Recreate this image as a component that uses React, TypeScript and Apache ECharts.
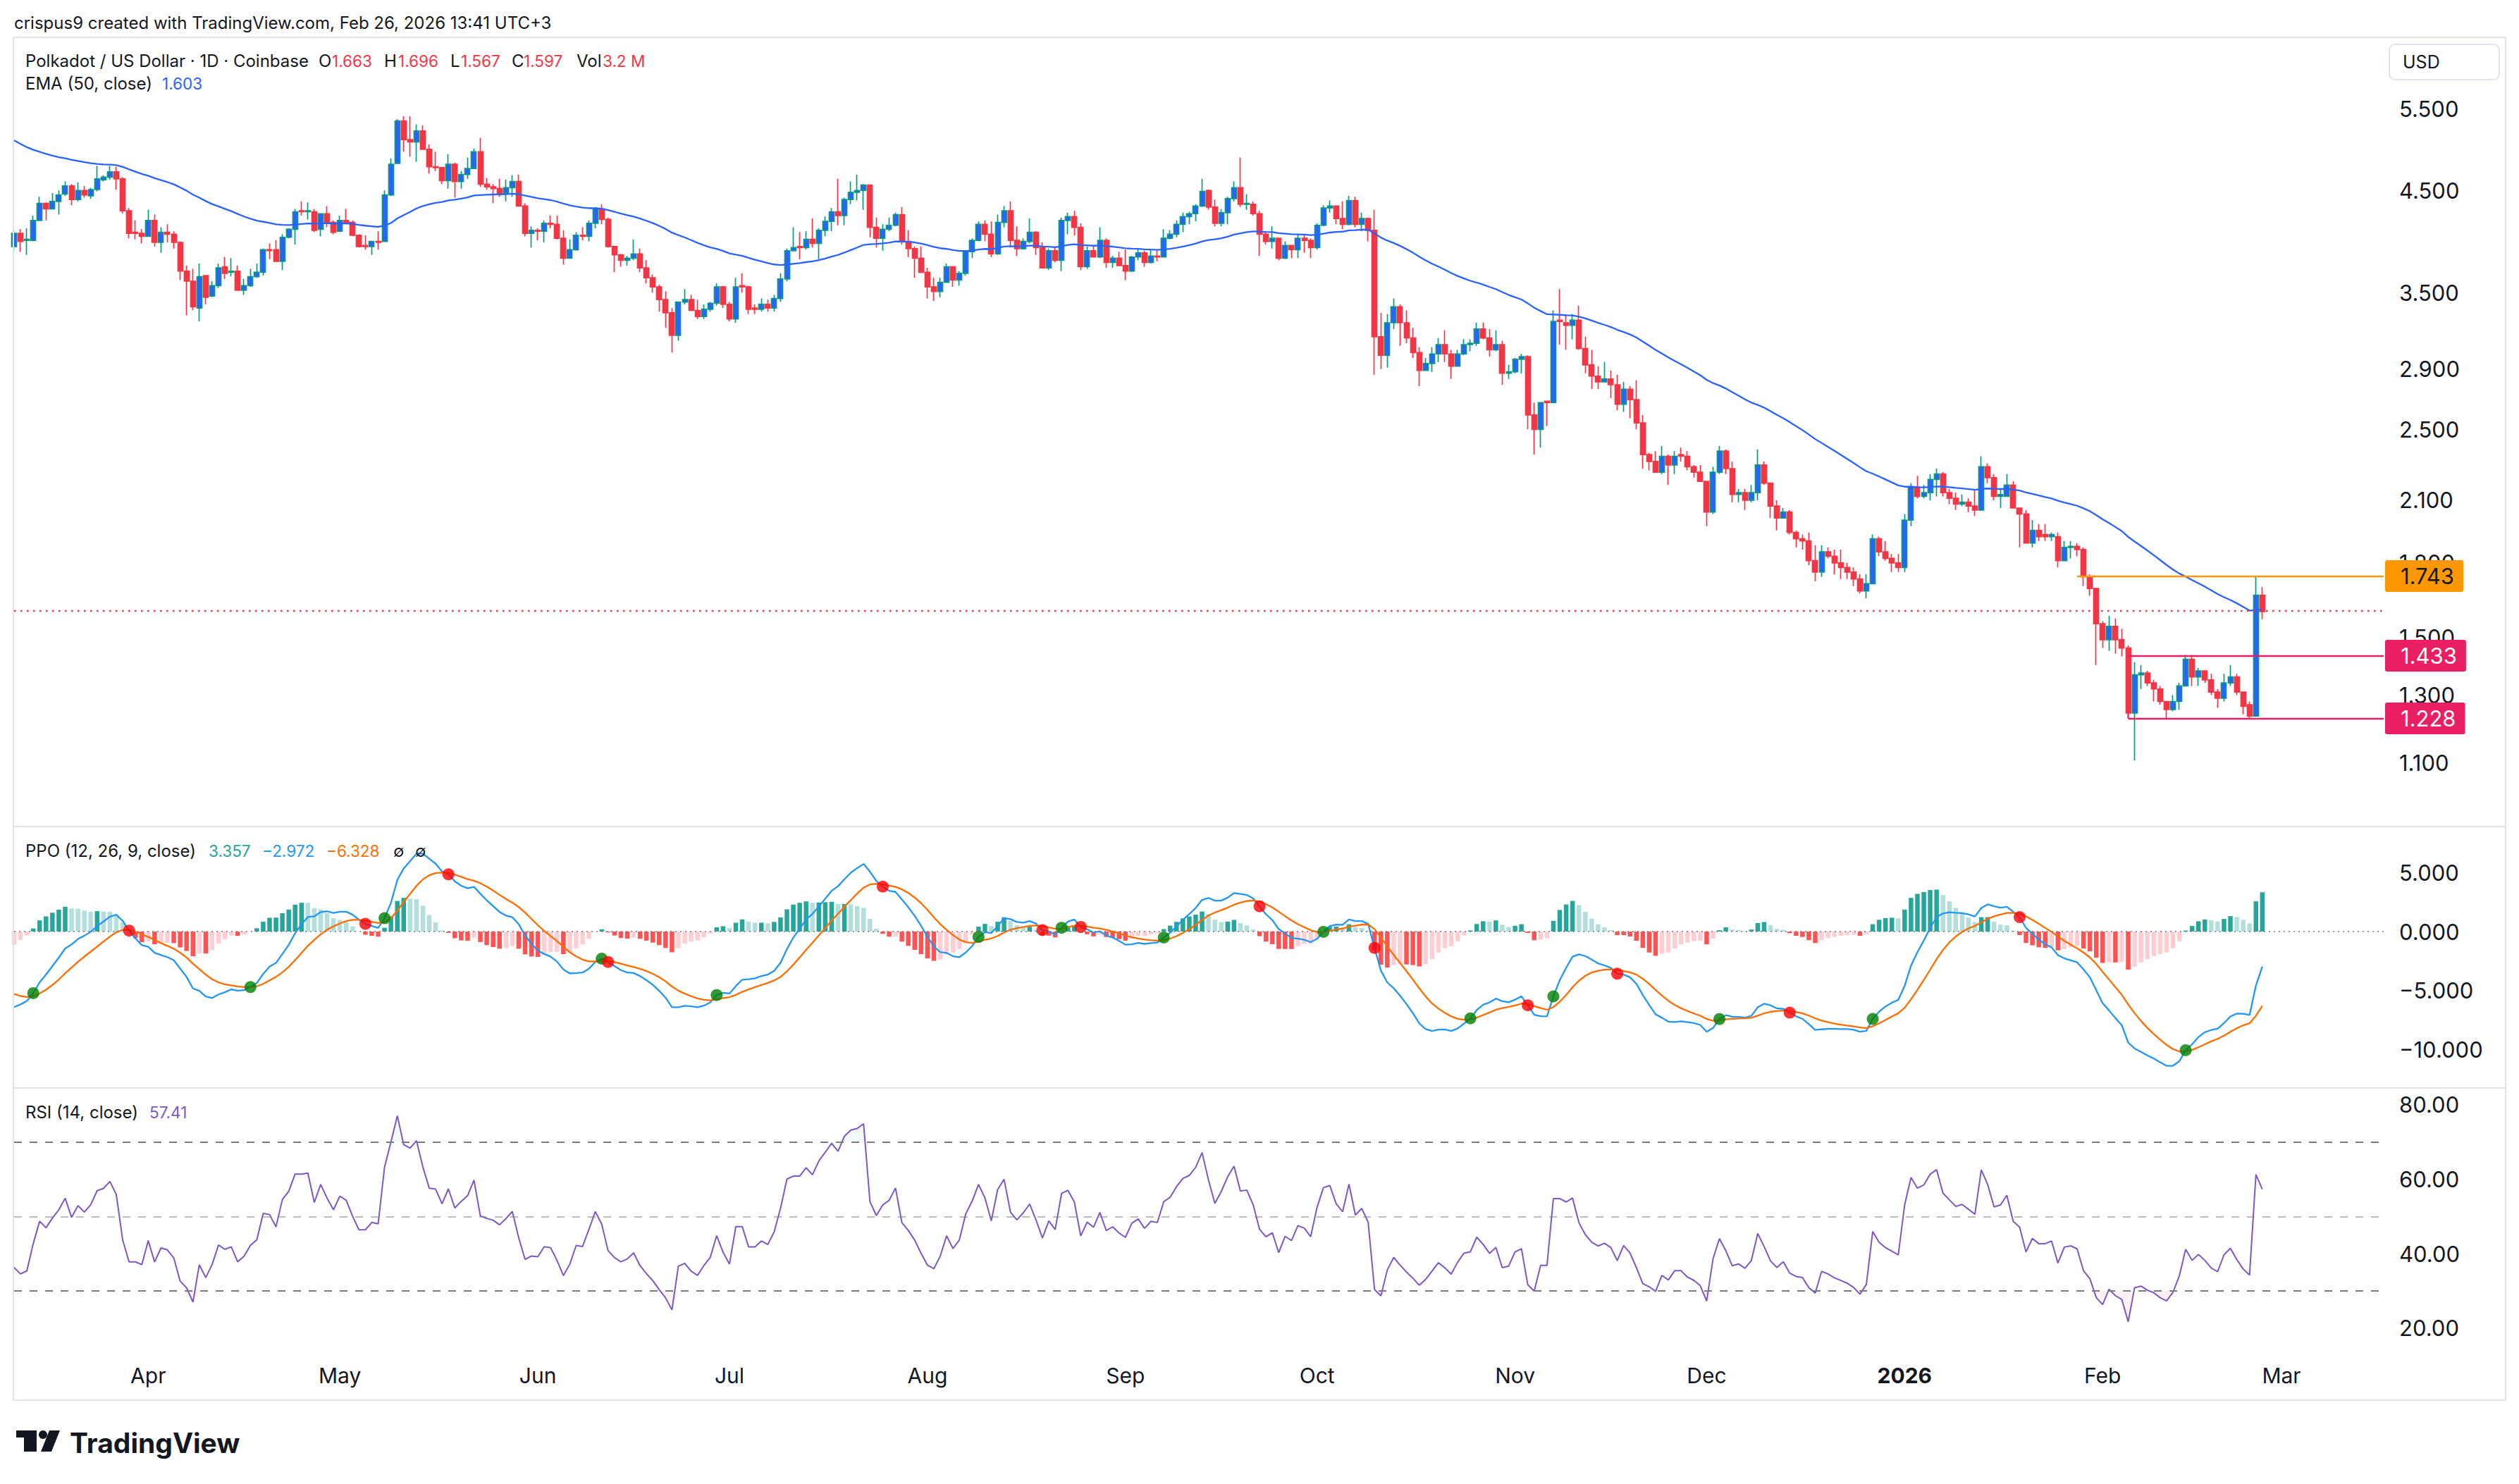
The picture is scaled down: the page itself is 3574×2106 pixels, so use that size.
import React, { useEffect, useRef } from "react";
import * as echarts from "echarts";

// ---------- data (Polkadot / US Dollar, 1D, Coinbase) ----------
const START_DATE = "2025-03-11";
const N_CATEGORIES = 372; // days shown on the time axis (data + right margin)

const OPEN = [
  3.92,4.05,3.98,3.98,4.18,4.36,4.30,4.38,4.46,4.55,
  4.40,4.50,4.44,4.51,4.62,4.65,4.71,4.63,4.28,4.06,
  4.05,4.02,4.18,3.96,4.06,4.04,3.96,3.69,3.60,3.37,
  3.65,3.47,3.56,3.73,3.68,3.69,3.52,3.56,3.64,3.68,
  3.89,3.89,3.78,4.01,4.09,4.28,4.27,4.27,4.09,4.25,
  4.16,4.07,4.18,4.16,4.03,3.93,3.92,3.97,3.97,4.45,
  4.81,5.34,5.10,5.07,5.21,4.98,4.77,4.76,4.61,4.80,
  4.60,4.68,4.75,4.95,4.57,4.54,4.52,4.47,4.53,4.60,
  4.33,4.05,4.08,4.07,4.15,4.14,4.00,3.81,3.89,4.03,
  4.02,4.15,4.30,4.19,3.92,3.84,3.79,3.81,3.85,3.72,
  3.63,3.55,3.44,3.33,3.15,3.42,3.44,3.35,3.30,3.36,
  3.41,3.55,3.40,3.28,3.56,3.55,3.37,3.36,3.40,3.37,
  3.45,3.62,3.88,3.92,3.91,3.99,3.95,4.08,4.17,4.27,
  4.23,4.40,4.48,4.50,4.56,4.11,4.00,4.09,4.13,4.24,
  3.97,3.90,3.81,3.68,3.55,3.51,3.59,3.73,3.61,3.67,
  3.87,3.98,4.14,4.04,3.85,4.16,4.28,3.98,3.90,3.97,
  4.06,3.91,3.72,3.88,3.79,4.18,4.22,4.11,3.73,3.88,
  3.82,3.98,3.77,3.81,3.74,3.69,3.82,3.86,3.77,3.83,
  3.82,4.00,4.04,4.14,4.22,4.25,4.33,4.50,4.32,4.15,
  4.26,4.41,4.53,4.35,4.35,4.25,4.04,3.97,4.00,3.81,
  3.93,3.89,4.00,3.98,3.91,4.13,4.31,4.33,4.20,4.14,
  4.39,4.14,4.20,4.08,3.14,3.00,3.25,3.38,3.25,3.13,
  3.02,2.89,2.94,3.01,3.08,3.01,2.92,3.01,3.08,3.09,
  3.20,3.13,3.04,3.08,2.87,2.88,2.97,2.99,2.59,2.50,
  2.68,2.67,3.27,3.25,3.23,3.27,3.05,2.93,2.85,2.81,
  2.83,2.79,2.66,2.76,2.69,2.54,2.35,2.31,2.25,2.34,
  2.29,2.35,2.34,2.28,2.25,2.20,2.04,2.25,2.37,2.27,
  2.13,2.14,2.10,2.14,2.29,2.19,2.07,2.01,2.04,1.94,
  1.91,1.90,1.81,1.76,1.85,1.83,1.80,1.78,1.76,1.73,
  1.68,1.71,1.91,1.85,1.82,1.80,1.78,2.00,2.17,2.12,
  2.14,2.21,2.24,2.14,2.11,2.08,2.09,2.07,2.05,2.28,
  2.22,2.12,2.12,2.18,2.06,2.03,1.89,1.95,1.93,1.92,
  1.92,1.81,1.87,1.875,1.86,1.74,1.69,1.55,1.49,1.54,
  1.49,1.46,1.244,1.367,1.373,1.34,1.32,1.28,1.255,1.28,
  1.33,1.42,1.36,1.38,1.35,1.31,1.29,1.34,1.36,1.31,
  1.27,1.235,1.663,
];
const HIGH = [
  4.08,4.09,4.10,4.23,4.43,4.37,4.47,4.50,4.60,4.57,
  4.59,4.55,4.53,4.78,4.67,4.78,4.77,4.65,4.31,4.18,
  4.09,4.29,4.24,4.11,4.14,4.07,3.97,3.74,3.71,3.76,
  3.65,3.60,3.76,3.82,3.81,3.74,3.62,3.71,3.76,3.90,
  3.95,3.98,4.04,4.10,4.30,4.38,4.37,4.30,4.25,4.33,
  4.18,4.23,4.30,4.18,4.04,4.03,3.97,4.07,4.50,4.87,
  5.36,5.40,5.40,5.29,5.28,5.04,4.95,4.77,4.92,4.82,
  4.72,4.88,4.99,5.12,4.64,4.57,4.63,4.62,4.67,4.68,
  4.36,4.12,4.10,4.18,4.23,4.23,4.08,3.99,4.06,4.11,
  4.18,4.32,4.35,4.21,3.92,3.85,3.83,3.99,3.90,3.79,
  3.66,3.57,3.51,3.37,3.42,3.53,3.48,3.44,3.40,3.42,
  3.58,3.56,3.42,3.63,3.67,3.56,3.40,3.45,3.44,3.48,
  3.67,3.90,4.11,4.06,4.07,4.20,4.10,4.22,4.31,4.63,
  4.42,4.60,4.68,4.57,4.56,4.21,4.14,4.21,4.26,4.32,
  4.08,3.92,3.92,3.72,3.63,3.63,3.76,3.73,3.69,3.88,
  4.00,4.17,4.18,4.17,4.24,4.33,4.38,4.12,4.00,4.20,
  4.07,3.96,3.90,3.92,4.21,4.26,4.28,4.15,3.92,3.93,
  4.11,4.00,3.83,3.87,3.89,3.83,3.90,3.88,3.89,3.88,
  4.09,4.08,4.18,4.26,4.27,4.35,4.63,4.51,4.40,4.30,
  4.43,4.60,4.88,4.46,4.38,4.28,4.06,4.12,4.00,3.97,
  3.93,4.04,4.03,4.00,4.15,4.34,4.39,4.33,4.38,4.44,
  4.43,4.26,4.21,4.29,3.33,3.32,3.45,3.40,3.35,3.21,
  3.06,2.98,3.06,3.13,3.19,3.04,3.04,3.12,3.12,3.25,
  3.25,3.20,3.19,3.11,2.93,2.98,3.01,3.00,2.67,2.67,
  2.68,3.35,3.53,3.32,3.32,3.39,3.14,3.04,2.92,2.95,
  2.89,2.86,2.81,2.78,2.82,2.59,2.36,2.37,2.40,2.35,
  2.37,2.39,2.37,2.29,2.29,2.20,2.28,2.40,2.38,2.31,
  2.16,2.16,2.18,2.38,2.31,2.19,2.10,2.06,2.05,1.95,
  1.93,1.94,1.88,1.88,1.87,1.86,1.86,1.80,1.78,1.75,
  1.75,1.93,1.92,1.90,1.84,1.84,2.03,2.19,2.23,2.18,
  2.24,2.27,2.25,2.16,2.14,2.13,2.11,2.15,2.34,2.30,
  2.24,2.16,2.24,2.20,2.06,2.05,2.00,1.98,1.98,1.94,
  1.94,1.90,1.90,1.89,1.87,1.75,1.69,1.56,1.58,1.57,
  1.53,1.47,1.41,1.40,1.38,1.35,1.33,1.28,1.30,1.34,
  1.435,1.435,1.39,1.38,1.37,1.32,1.37,1.40,1.37,1.31,
  1.28,1.743,1.696,
];
const LOW = [
  3.88,3.87,3.84,3.97,4.18,4.18,4.30,4.24,4.44,4.34,
  4.38,4.42,4.41,4.49,4.60,4.62,4.51,4.25,4.00,3.99,
  3.95,4.02,3.92,3.86,3.96,3.90,3.61,3.31,3.35,3.26,
  3.40,3.46,3.54,3.62,3.64,3.52,3.48,3.55,3.63,3.65,
  3.80,3.78,3.70,4.00,3.94,4.23,4.19,4.06,4.02,4.11,
  4.04,4.07,4.14,4.02,3.91,3.89,3.84,3.89,3.97,4.44,
  4.81,4.95,4.89,4.83,4.98,4.69,4.72,4.57,4.52,4.42,
  4.52,4.63,4.75,4.54,4.51,4.36,4.43,4.38,4.43,4.33,
  4.02,3.91,3.98,3.96,4.10,3.99,3.75,3.81,3.88,3.98,
  3.97,4.10,4.14,3.91,3.68,3.73,3.74,3.79,3.68,3.58,
  3.50,3.34,3.21,3.02,3.11,3.40,3.35,3.28,3.28,3.34,
  3.39,3.37,3.26,3.25,3.50,3.32,3.32,3.34,3.34,3.34,
  3.42,3.60,3.87,3.80,3.89,3.91,3.80,4.02,4.07,4.13,
  4.13,4.35,4.39,4.29,4.01,3.91,3.88,4.07,4.12,3.94,
  3.82,3.63,3.67,3.45,3.43,3.46,3.59,3.55,3.56,3.65,
  3.81,3.97,3.97,3.82,3.84,4.11,3.91,3.83,3.89,3.95,
  3.84,3.72,3.70,3.77,3.69,4.04,4.03,3.70,3.71,3.82,
  3.81,3.72,3.72,3.74,3.61,3.68,3.79,3.73,3.76,3.78,
  3.82,3.99,4.01,4.06,4.14,4.17,4.32,4.29,4.12,4.12,
  4.14,4.38,4.32,4.29,4.23,3.83,3.94,3.90,3.79,3.80,
  3.81,3.81,3.86,3.81,3.89,4.12,4.26,4.14,4.09,4.13,
  4.11,4.07,3.97,2.86,2.90,2.91,3.20,3.07,3.09,2.98,
  2.78,2.89,2.88,2.95,2.95,2.83,2.92,3.00,3.03,3.07,
  3.12,2.99,3.03,2.79,2.83,2.87,2.87,2.50,2.35,2.39,
  2.52,2.67,3.08,3.04,3.12,3.04,2.87,2.76,2.76,2.81,
  2.70,2.62,2.61,2.57,2.50,2.27,2.26,2.25,2.24,2.18,
  2.24,2.31,2.26,2.22,2.20,1.97,2.03,2.24,2.24,2.09,
  2.09,2.05,2.09,2.10,2.18,2.01,1.95,2.01,1.93,1.87,
  1.86,1.79,1.72,1.74,1.82,1.75,1.73,1.73,1.70,1.67,
  1.65,1.71,1.83,1.81,1.76,1.76,1.76,1.97,2.11,2.11,
  2.10,2.12,2.12,2.08,2.05,2.07,2.04,2.02,2.05,2.19,
  2.10,2.06,2.12,2.06,1.87,1.89,1.87,1.90,1.90,1.90,
  1.78,1.81,1.82,1.83,1.70,1.66,1.40,1.46,1.45,1.44,
  1.43,1.243,1.107,1.32,1.33,1.28,1.27,1.228,1.25,1.255,
  1.33,1.33,1.33,1.34,1.30,1.26,1.28,1.33,1.30,1.24,
  1.229,1.233,1.567,
];
const CLOSE = [
  4.05,3.97,3.99,4.18,4.36,4.30,4.38,4.45,4.55,4.40,
  4.50,4.45,4.51,4.63,4.65,4.71,4.63,4.28,4.05,4.05,
  4.02,4.18,3.96,4.06,4.04,3.96,3.69,3.60,3.38,3.64,
  3.46,3.56,3.72,3.67,3.69,3.52,3.56,3.64,3.68,3.89,
  3.88,3.78,4.01,4.09,4.27,4.27,4.28,4.08,4.25,4.15,
  4.06,4.18,4.15,4.03,3.92,3.92,3.97,3.96,4.45,4.80,
  5.34,5.10,5.07,5.21,4.98,4.77,4.76,4.61,4.80,4.60,
  4.68,4.75,4.95,4.57,4.54,4.52,4.47,4.53,4.60,4.33,
  4.05,4.08,4.07,4.15,4.14,4.00,3.81,3.89,4.03,4.02,
  4.15,4.30,4.19,3.92,3.84,3.79,3.81,3.85,3.72,3.63,
  3.55,3.44,3.33,3.15,3.42,3.44,3.35,3.30,3.36,3.41,
  3.55,3.40,3.28,3.55,3.55,3.36,3.36,3.40,3.37,3.45,
  3.62,3.88,3.91,3.91,3.99,3.95,4.08,4.17,4.27,4.23,
  4.40,4.48,4.50,4.56,4.11,4.00,4.09,4.13,4.24,3.97,
  3.90,3.81,3.68,3.55,3.51,3.59,3.73,3.61,3.67,3.87,
  3.98,4.14,4.04,3.85,4.16,4.28,3.98,3.90,3.97,4.06,
  3.91,3.72,3.88,3.79,4.18,4.22,4.11,3.73,3.88,3.82,
  3.98,3.77,3.81,3.74,3.69,3.82,3.86,3.77,3.83,3.82,
  4.00,4.04,4.14,4.22,4.25,4.33,4.49,4.32,4.15,4.26,
  4.41,4.53,4.35,4.36,4.25,4.04,3.97,4.00,3.81,3.93,
  3.89,4.00,3.98,3.91,4.13,4.31,4.33,4.20,4.14,4.39,
  4.14,4.20,4.08,3.14,3.00,3.25,3.38,3.25,3.13,3.02,
  2.89,2.94,3.01,3.08,3.01,2.92,3.01,3.08,3.09,3.20,
  3.13,3.04,3.08,2.87,2.88,2.97,2.99,2.59,2.50,2.67,
  2.67,3.26,3.26,3.23,3.27,3.05,2.93,2.85,2.81,2.83,
  2.79,2.66,2.76,2.69,2.54,2.35,2.31,2.25,2.34,2.29,
  2.34,2.34,2.28,2.25,2.20,2.04,2.25,2.37,2.27,2.13,
  2.14,2.10,2.14,2.29,2.19,2.07,2.01,2.04,1.94,1.91,
  1.90,1.81,1.76,1.85,1.83,1.80,1.78,1.76,1.73,1.68,
  1.71,1.91,1.85,1.82,1.80,1.78,2.00,2.17,2.12,2.14,
  2.21,2.24,2.14,2.11,2.08,2.09,2.07,2.05,2.28,2.22,
  2.12,2.13,2.18,2.06,2.03,1.89,1.95,1.92,1.92,1.93,
  1.81,1.87,1.875,1.86,1.74,1.69,1.55,1.49,1.54,1.49,
  1.46,1.244,1.367,1.373,1.34,1.32,1.28,1.255,1.28,1.33,
  1.42,1.36,1.38,1.35,1.31,1.29,1.34,1.36,1.31,1.265,
  1.235,1.663,1.597,
];

// indicator state at the first visible bar
const EMA50_SEED = 5.09;
const EMA12_SEED = 4.08;
const EMA26_SEED = 4.36;
const SIGNAL_SEED = -5.3;
const RSI_AVG_GAIN_SEED = 0.045;
const RSI_AVG_LOSS_SEED = 0.079;

// tick labels
const PRICE_TICKS = [1.1, 1.3, 1.5, 1.8, 2.1, 2.5, 2.9, 3.5, 4.5, 5.5];
const PPO_TICKS = [-10, -5, 0, 5];
const RSI_TICKS = [20, 40, 60, 80];
const MONTH_NAMES = ["2026", "Feb", "Mar", "Apr", "May", "Jun", "Jul", "Aug", "Sep", "Oct", "Nov", "Dec"];

// drawn levels
const LAST_PRICE = 1.597;
const RESISTANCE = 1.743;
const RANGE_HIGH = 1.433;
const RANGE_LOW = 1.228;
const RESISTANCE_START = 323;
const RANGE_START = 331;
const RSI_LEVELS = [70, 50, 30];

// legend values (as printed)
const OHLC_LEGEND = ["1.663", "1.696", "1.567", "1.597"];
const VOL_LEGEND = "3.2 M";
const EMA_LEGEND = "1.603";
const PPO_LEGEND = ["3.357", "\u22122.972", "\u22126.328"];
const RSI_LEGEND = "57.41";

// ---------- helpers ----------
const FONT = "Inter, 'Noto Sans', 'DejaVu Sans', sans-serif";
const TXT = "#131722";
const LEG = 24; // legend title size
const VAL = 22.5; // legend value size

function buildDates(): string[] {
  const [y, m, d] = START_DATE.split("-").map(Number);
  const base = Date.UTC(y, m - 1, d);
  const out: string[] = [];
  for (let i = 0; i < N_CATEGORIES; i++) {
    out.push(new Date(base + i * 86400000).toISOString().slice(0, 10));
  }
  return out;
}

function ema(src: number[], period: number, seed: number): number[] {
  const k = 2 / (period + 1);
  const out = [seed];
  for (let i = 1; i < src.length; i++) out.push(out[i - 1] + k * (src[i] - out[i - 1]));
  return out;
}

function rsiCalc(src: number[]): number[] {
  let g = RSI_AVG_GAIN_SEED;
  let l = RSI_AVG_LOSS_SEED;
  const out = [100 - 100 / (1 + g / l)];
  for (let i = 1; i < src.length; i++) {
    const ch = src[i] - src[i - 1];
    g = (g * 13 + Math.max(ch, 0)) / 14;
    l = (l * 13 + Math.max(-ch, 0)) / 14;
    out.push(100 - 100 / (1 + g / l));
  }
  return out;
}

function text(x: number, y: number, t: string, fill = TXT, size = LEG, weight: any = "normal") {
  return {
    type: "text",
    x,
    y,
    z: 100,
    silent: true,
    style: { text: t, fill, fontSize: size, fontFamily: FONT, fontWeight: weight, verticalAlign: "middle", align: "left" },
  };
}

function buildOption() {
  const dates = buildDates();
  const last = dates[N_CATEGORIES - 1];

  const ema50 = ema(CLOSE, 50, EMA50_SEED);
  const e12 = ema(CLOSE, 12, EMA12_SEED);
  const e26 = ema(CLOSE, 26, EMA26_SEED);
  const ppo = e12.map((v, i) => ((v - e26[i]) / e26[i]) * 100);
  const signal = ema(ppo, 9, SIGNAL_SEED);
  const hist = ppo.map((v, i) => v - signal[i]);
  const rsi = rsiCalc(CLOSE);

  const histData = hist.map((v, i) => {
    const prev = i > 0 ? hist[i - 1] : v;
    let color;
    if (v >= 0) color = v >= prev ? "#26A69A" : "#B2DFDB";
    else color = v < prev ? "#FF5252" : "#FFCDD2";
    return { value: v, itemStyle: { color } };
  });

  const crosses: any[] = [];
  for (let i = 1; i < ppo.length; i++) {
    const a = hist[i - 1];
    const b = hist[i];
    if ((a < 0 && b >= 0) || (a > 0 && b <= 0)) {
      crosses.push({ value: [dates[i], ppo[i]], itemStyle: { color: b >= 0 ? "#008000" : "#FF0000" } });
    }
  }

  const candles = OPEN.map((o, i) => [o, CLOSE[i], LOW[i], HIGH[i]]);

  const levelLabel = (bg: string, fg: string, v: number) => ({
    show: true,
    position: "end",
    distance: 2,
    formatter: v.toFixed(3),
    color: fg,
    backgroundColor: bg,
    padding: [7, 13, 7, 22],
    fontSize: 31,
    lineHeight: 31,
    fontFamily: FONT,
    borderRadius: 3,
  });

  const gridCommon = { left: 20, right: 192 };
  const xCommon = {
    type: "category",
    data: dates,
    boundaryGap: false,
    axisLine: { show: false },
    axisTick: { show: false },
    splitLine: { show: false },
    axisLabel: { show: false },
  };
  const yLabel = (vals: number[], fmt: (v: number) => string) => ({
    customValues: vals,
    formatter: fmt,
    fontSize: 31,
    fontFamily: FONT,
    color: TXT,
    margin: 22,
  });

  return {
    animation: false,
    backgroundColor: "#ffffff",
    grid: [
      { ...gridCommon, top: 53, height: 1120 },
      { ...gridCommon, top: 1173, height: 371 },
      { ...gridCommon, top: 1544, height: 380 },
    ],
    xAxis: [
      { ...xCommon, gridIndex: 0 },
      { ...xCommon, gridIndex: 1 },
      {
        ...xCommon,
        gridIndex: 2,
        axisLabel: {
          show: true,
          interval: (_i: number, v: string) => v.slice(8) === "01",
          formatter: (v: string) => {
            const m = Number(v.slice(5, 7));
            const name = m === 1 ? MONTH_NAMES[0] : MONTH_NAMES[m - 1];
            return m === 1 ? "{b|" + name + "}" : name;
          },
          margin: 13,
          fontSize: 30,
          fontFamily: FONT,
          color: TXT,
          hideOverlap: false,
          rich: { b: { fontSize: 30, fontFamily: FONT, fontWeight: "bold", color: TXT } },
        },
      },
    ],
    yAxis: [
      {
        type: "log",
        logBase: 10,
        gridIndex: 0,
        position: "right",
        min: 0.941,
        max: 6.558,
        axisLine: { show: false },
        axisTick: { show: false },
        splitLine: { show: false },
        axisLabel: yLabel(PRICE_TICKS, (v) => Number(v).toFixed(3)),
      },
      {
        type: "value",
        gridIndex: 1,
        position: "right",
        min: -13.29,
        max: 8.92,
        axisLine: { show: false },
        axisTick: { show: false },
        splitLine: { show: false },
        axisLabel: yLabel(PPO_TICKS, (v) => (v < 0 ? "\u2212" : "") + Math.abs(v).toFixed(3)),
      },
      {
        type: "value",
        gridIndex: 2,
        position: "right",
        min: 12.6,
        max: 84.5,
        axisLine: { show: false },
        axisTick: { show: false },
        splitLine: { show: false },
        axisLabel: yLabel(RSI_TICKS, (v) => Number(v).toFixed(2)),
      },
    ],
    series: [
      {
        name: "rangeEdge",
        type: "line",
        xAxisIndex: 0,
        yAxisIndex: 0,
        z: 1,
        silent: true,
        showSymbol: false,
        data: [
          [dates[RANGE_START], RANGE_LOW],
          [dates[RANGE_START], RANGE_HIGH],
        ],
        lineStyle: { color: "#E91E63", width: 2.3 },
      },
      {
        name: "DOT",
        type: "candlestick",
        xAxisIndex: 0,
        yAxisIndex: 0,
        z: 3,
        barWidth: 7.5,
        data: candles,
        itemStyle: {
          color: "#2962FF",
          color0: "#F23645",
          borderColor: "#089981",
          borderColor0: "#F23645",
          borderWidth: 1.7,
        },
      },
      {
        name: "EMA50",
        type: "line",
        xAxisIndex: 0,
        yAxisIndex: 0,
        z: 4,
        data: ema50,
        showSymbol: false,
        silent: true,
        lineStyle: { color: "#2962FF", width: 2.3 },
        markLine: {
          silent: true,
          symbol: ["none", "none"],
          data: [
            { yAxis: LAST_PRICE, lineStyle: { color: "#F23645", width: 2.3, type: [2.5, 6.5] }, label: { show: false } },
            [
              { coord: [dates[RESISTANCE_START], RESISTANCE], lineStyle: { color: "#FF9800", width: 2.3, type: "solid" }, label: levelLabel("#FF9800", TXT, RESISTANCE) },
              { coord: [last, RESISTANCE] },
            ],
            [
              { coord: [dates[RANGE_START], RANGE_HIGH], lineStyle: { color: "#E91E63", width: 2.3, type: "solid" }, label: levelLabel("#E91E63", "#ffffff", RANGE_HIGH) },
              { coord: [last, RANGE_HIGH] },
            ],
            [
              { coord: [dates[RANGE_START], RANGE_LOW], lineStyle: { color: "#E91E63", width: 2.3, type: "solid" }, label: levelLabel("#E91E63", "#ffffff", RANGE_LOW) },
              { coord: [last, RANGE_LOW] },
            ],
          ],
        },
      },
      {
        name: "PPO hist",
        type: "bar",
        xAxisIndex: 1,
        yAxisIndex: 1,
        barWidth: 6.5,
        data: histData,
        markLine: {
          silent: true,
          symbol: ["none", "none"],
          label: { show: false },
          data: [{ yAxis: 0, lineStyle: { color: "#787B86", width: 1.5, type: [2, 5] } }],
        },
      },
      {
        name: "PPO",
        type: "line",
        xAxisIndex: 1,
        yAxisIndex: 1,
        data: ppo,
        showSymbol: false,
        silent: true,
        lineStyle: { color: "#2196F3", width: 2.3 },
        z: 3,
      },
      {
        name: "Signal",
        type: "line",
        xAxisIndex: 1,
        yAxisIndex: 1,
        data: signal,
        showSymbol: false,
        silent: true,
        lineStyle: { color: "#FF6D00", width: 2.3 },
        z: 3,
      },
      {
        name: "Cross",
        type: "scatter",
        xAxisIndex: 1,
        yAxisIndex: 1,
        symbolSize: 17,
        data: crosses,
        z: 4,
        silent: true,
      },
      {
        name: "osBase",
        type: "line",
        xAxisIndex: 2,
        yAxisIndex: 2,
        stack: "os",
        data: rsi.map((v) => Math.min(v, RSI_LEVELS[2])),
        showSymbol: false,
        silent: true,
        lineStyle: { opacity: 0 },
      },
      {
        name: "osFill",
        type: "line",
        xAxisIndex: 2,
        yAxisIndex: 2,
        stack: "os",
        data: rsi.map((v) => RSI_LEVELS[2] - Math.min(v, RSI_LEVELS[2])),
        showSymbol: false,
        silent: true,
        lineStyle: { opacity: 0 },
        areaStyle: { color: "rgba(242,54,69,0.10)" },
      },
      {
        name: "obBase",
        type: "line",
        xAxisIndex: 2,
        yAxisIndex: 2,
        stack: "ob",
        data: rsi.map(() => RSI_LEVELS[0]),
        showSymbol: false,
        silent: true,
        lineStyle: { opacity: 0 },
      },
      {
        name: "obFill",
        type: "line",
        xAxisIndex: 2,
        yAxisIndex: 2,
        stack: "ob",
        data: rsi.map((v) => Math.max(v, RSI_LEVELS[0]) - RSI_LEVELS[0]),
        showSymbol: false,
        silent: true,
        lineStyle: { opacity: 0 },
        areaStyle: { color: "rgba(8,153,129,0.08)" },
      },
      {
        name: "RSI",
        type: "line",
        xAxisIndex: 2,
        yAxisIndex: 2,
        data: rsi,
        showSymbol: false,
        silent: true,
        z: 4,
        lineStyle: { color: "#7E57C2", width: 2 },
        markLine: {
          silent: true,
          symbol: ["none", "none"],
          label: { show: false },
          data: [
            { yAxis: RSI_LEVELS[0], lineStyle: { color: "#787B86", width: 2, type: [11, 11] } },
            { yAxis: RSI_LEVELS[1], lineStyle: { color: "rgba(120,123,134,0.5)", width: 2, type: [11, 11] } },
            { yAxis: RSI_LEVELS[2], lineStyle: { color: "#787B86", width: 2, type: [11, 11] } },
          ],
        },
      },
    ],
    graphic: [
      // frame + pane separators
      { type: "rect", z: 90, silent: true, shape: { x: 19, y: 53, width: 3536, height: 1934 }, style: { fill: "none", stroke: "#E0E3EB", lineWidth: 2 } },
      { type: "line", z: 90, silent: true, shape: { x1: 19, y1: 1173, x2: 3555, y2: 1173 }, style: { stroke: "#E0E3EB", lineWidth: 2 } },
      { type: "line", z: 90, silent: true, shape: { x1: 19, y1: 1544, x2: 3555, y2: 1544 }, style: { stroke: "#E0E3EB", lineWidth: 2 } },
      // header
      text(20, 32, "crispus9 created with TradingView.com, Feb 26, 2026 13:41 UTC+3", TXT, 24),
      text(36, 86, "Polkadot / US Dollar \u00b7 1D \u00b7 Coinbase"),
      text(452, 86, "O"),
      text(471, 86, OHLC_LEGEND[0], "#F23645", VAL),
      text(545, 86, "H"),
      text(565, 86, OHLC_LEGEND[1], "#F23645", VAL),
      text(639, 86, "L"),
      text(654, 86, OHLC_LEGEND[2], "#F23645", VAL),
      text(726, 86, "C"),
      text(743, 86, OHLC_LEGEND[3], "#F23645", VAL),
      text(818, 86, "Vol"),
      text(855, 86, VOL_LEGEND, "#F23645", VAL),
      text(36, 118, "EMA (50, close)"),
      text(230, 118, EMA_LEGEND, "#2962FF", VAL),
      // USD box
      { type: "rect", z: 95, silent: true, shape: { x: 3390, y: 63, width: 156, height: 50, r: 8 }, style: { fill: "#ffffff", stroke: "#E0E3EB", lineWidth: 2 } },
      text(3409, 88, "USD", TXT, 25),
      // PPO legend
      text(36, 1207, "PPO (12, 26, 9, close)"),
      text(296, 1207, PPO_LEGEND[0], "#26A69A", VAL),
      text(372, 1207, PPO_LEGEND[1], "#2196F3", VAL),
      text(463, 1207, PPO_LEGEND[2], "#FF6D00", VAL),
      text(558, 1207, "\u2205", TXT, VAL),
      text(589, 1207, "\u2205", TXT, VAL),
      // RSI legend
      text(36, 1578, "RSI (14, close)"),
      text(212, 1578, RSI_LEGEND, "#7E57C2", VAL),
      // TradingView logo
      { type: "rect", z: 100, silent: true, shape: { x: 23, y: 2030, width: 29, height: 10 }, style: { fill: TXT } },
      { type: "rect", z: 100, silent: true, shape: { x: 34, y: 2030, width: 18, height: 30 }, style: { fill: TXT } },
      { type: "circle", z: 100, silent: true, shape: { cx: 61, cy: 2036, r: 6 }, style: { fill: TXT } },
      { type: "polygon", z: 100, silent: true, shape: { points: [[70, 2030], [85, 2030], [73, 2060], [58, 2060]] }, style: { fill: TXT } },
      text(99, 2047, "TradingView", TXT, 39, "bold"),
    ],
  };
}

export default function App() {
  const ref = useRef<HTMLDivElement>(null);
  useEffect(() => {
    const chart = echarts.init(ref.current as HTMLDivElement, null, { renderer: "svg", width: 3574, height: 2106 });
    chart.setOption(buildOption() as any);
    return () => chart.dispose();
  }, []);
  return (
    <div
      ref={ref}
      style={{ position: "absolute", left: 0, top: 0, width: 3574, height: 2106, background: "#ffffff" }}
    />
  );
}
